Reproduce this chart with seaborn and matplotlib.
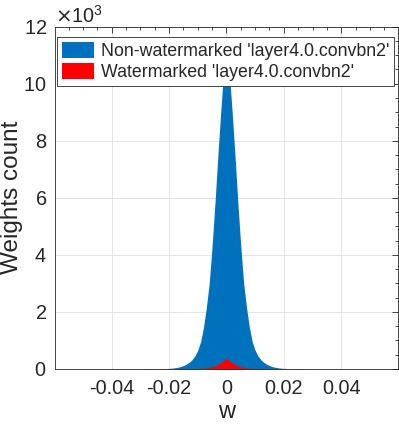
import numpy as np
import pandas as pd
import matplotlib
matplotlib.use("Agg")
import matplotlib.pyplot as plt
import seaborn as sns
from matplotlib.ticker import MultipleLocator


# bin centres of the weight histogram
W_CENTERS = np.round(np.linspace(-0.04, 0.04, 81), 4)

NON_WM_COUNTS = [1, 1, 1, 1, 1, 1, 1, 1, 1, 2,
                 2, 2, 3, 3, 4, 5, 6, 8, 10, 13,
                 18, 26, 38, 55, 80, 115, 165, 230, 320, 450,
                 650, 950, 1450, 2150, 3000, 4300, 5800, 7450, 9000, 10400,
                 11500,
                 10400, 9000, 7450, 5800, 4300, 3000, 2150, 1450, 950, 650,
                 450, 320, 230, 165, 115, 80, 55, 38, 26, 18,
                 13, 10, 8, 6, 5, 4, 3, 3, 2, 2,
                 2, 1, 1, 1, 1, 1, 1, 1, 1, 1]

WM_COUNTS = [0, 0, 0, 0, 0, 0, 0, 0, 0, 0,
             1, 1, 1, 1, 1, 1, 2, 2, 2, 2,
             2, 3, 3, 3, 4, 4, 5, 6, 8, 10,
             13, 18, 25, 36, 52, 75, 110, 155, 215, 290,
             370,
             290, 215, 155, 110, 75, 52, 36, 25, 18, 13,
             10, 8, 6, 5, 4, 4, 3, 3, 3, 2,
             2, 2, 2, 2, 1, 1, 1, 1, 1, 1,
             0, 0, 0, 0, 0, 0, 0, 0, 0, 0]

LABELS = ["Non-watermarked 'layer4.0.convbn2'",
          "Watermarked 'layer4.0.convbn2'"]
COLORS = ["#0072BD", "#FF0000"]


def main():
    sns.set_style("white")
    plt.rcParams["font.family"] = ["Liberation Sans", "DejaVu Sans"]

    df = pd.DataFrame({"w": W_CENTERS, "non_wm": NON_WM_COUNTS, "wm": WM_COUNTS})

    fig = plt.figure(figsize=(3.99, 4.24), dpi=100)
    ax = fig.add_axes([0.138, 0.13, 0.859, 0.807])

    for col, lab, c in zip(["non_wm", "wm"], LABELS, COLORS):
        sns.histplot(data=df, x="w", weights=col, binwidth=0.001,
                     binrange=(-0.0405, 0.0405), element="poly",
                     fill=True, color=c, alpha=1, linewidth=0, label=lab, ax=ax)

    dark = "0.15"
    ax.set_xlim(-0.0597, 0.0597)
    ax.set_ylim(0, 12000)
    ax.xaxis.set_major_locator(MultipleLocator(0.02))
    ax.xaxis.set_minor_locator(MultipleLocator(0.005))
    ax.yaxis.set_major_locator(MultipleLocator(2000))
    ax.yaxis.set_minor_locator(MultipleLocator(500))
    ax.ticklabel_format(axis="y", style="sci", scilimits=(3, 3), useMathText=True)
    ax.set_xticks([-0.04, -0.02, 0, 0.02, 0.04])
    ax.set_xticklabels(["-0.04", "-0.02", "0", "0.02", "0.04"])

    ax.tick_params(which="both", direction="in", top=True, right=True,
                   colors=dark, labelsize=14.3, width=0.6)
    ax.tick_params(which="major", length=4)
    ax.tick_params(which="minor", length=2.5)
    ax.tick_params(axis="y", which="major", pad=6)
    ax.tick_params(axis="x", which="major", pad=7)
    ax.yaxis.get_offset_text().set_fontsize(14.3)
    ax.yaxis.get_offset_text().set_color(dark)

    ax.grid(True, which="major", color="0.88", linewidth=0.6)
    ax.set_axisbelow(True)
    for s in ax.spines.values():
        s.set_color(dark)
        s.set_linewidth(0.6)

    ax.set_xlabel("w", fontsize=17, color=dark)
    ax.xaxis.set_label_coords(0.5, -0.095)
    ax.set_ylabel("Weights count", fontsize=17.5, color=dark)
    ax.yaxis.set_label_coords(-0.095, 0.5)

    leg = ax.legend(loc="upper left", bbox_to_anchor=(0.006, 0.971),
                    fontsize=12.8, frameon=True, fancybox=False,
                    framealpha=1, edgecolor=dark, handlelength=1.8, handleheight=1.0,
                    borderaxespad=0, borderpad=0.3, labelspacing=0.15,
                    handletextpad=0.35)
    leg.get_frame().set_linewidth(0.6)

    fig.savefig("out.png", dpi=100)
    plt.close(fig)


if __name__ == "__main__":
    main()
